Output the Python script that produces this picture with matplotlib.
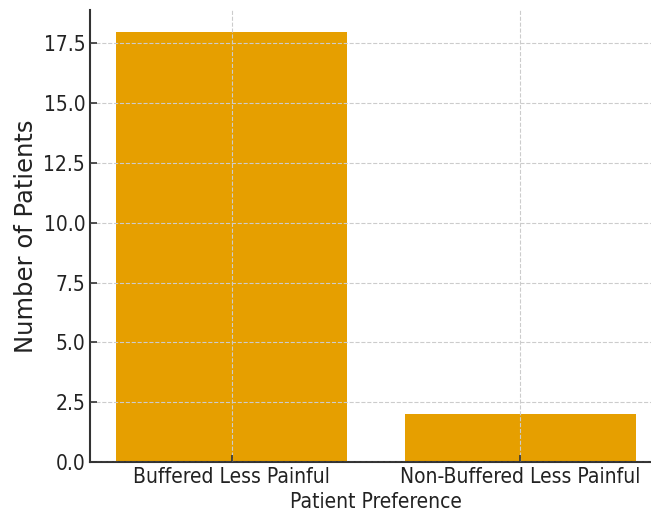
import matplotlib.pyplot as plt

# datos
categories = ["Buffered Less Painful", "Non-Buffered Less Painful"]
patients = [18, 2]

plt.rcParams['font.family'] = ['DejaVu Sans']
plt.rcParams['font.stretch'] = 'condensed'

fig = plt.figure(figsize=(6.51, 5.25), dpi=100)
ax = fig.add_axes([90/651, 63/525, 572/651, 452/525])

ax.bar(categories, patients, color="#E69F00", width=0.8)

ax.set_axisbelow(False)
ax.grid(True, linestyle="--", color="#cccccc", linewidth=0.8)

ax.spines["top"].set_visible(False)
ax.spines["right"].set_visible(False)
for s in ["left", "bottom"]:
    ax.spines[s].set_linewidth(1.5)
    ax.spines[s].set_color("#333333")

ax.tick_params(direction="in", length=5, width=1.2, colors="#333333",
               labelcolor="#222222", labelsize=15)
ax.set_xlabel("Patient Preference", fontsize=15, color="#222222")
ax.set_ylabel("Number of Patients", fontsize=17.5, color="#222222",
              fontstretch="normal", labelpad=4)
ax.set_ylim(0, 18.9)
ax.set_xlim(-0.49, 1.49)

fig.savefig("out.png", dpi=100)
